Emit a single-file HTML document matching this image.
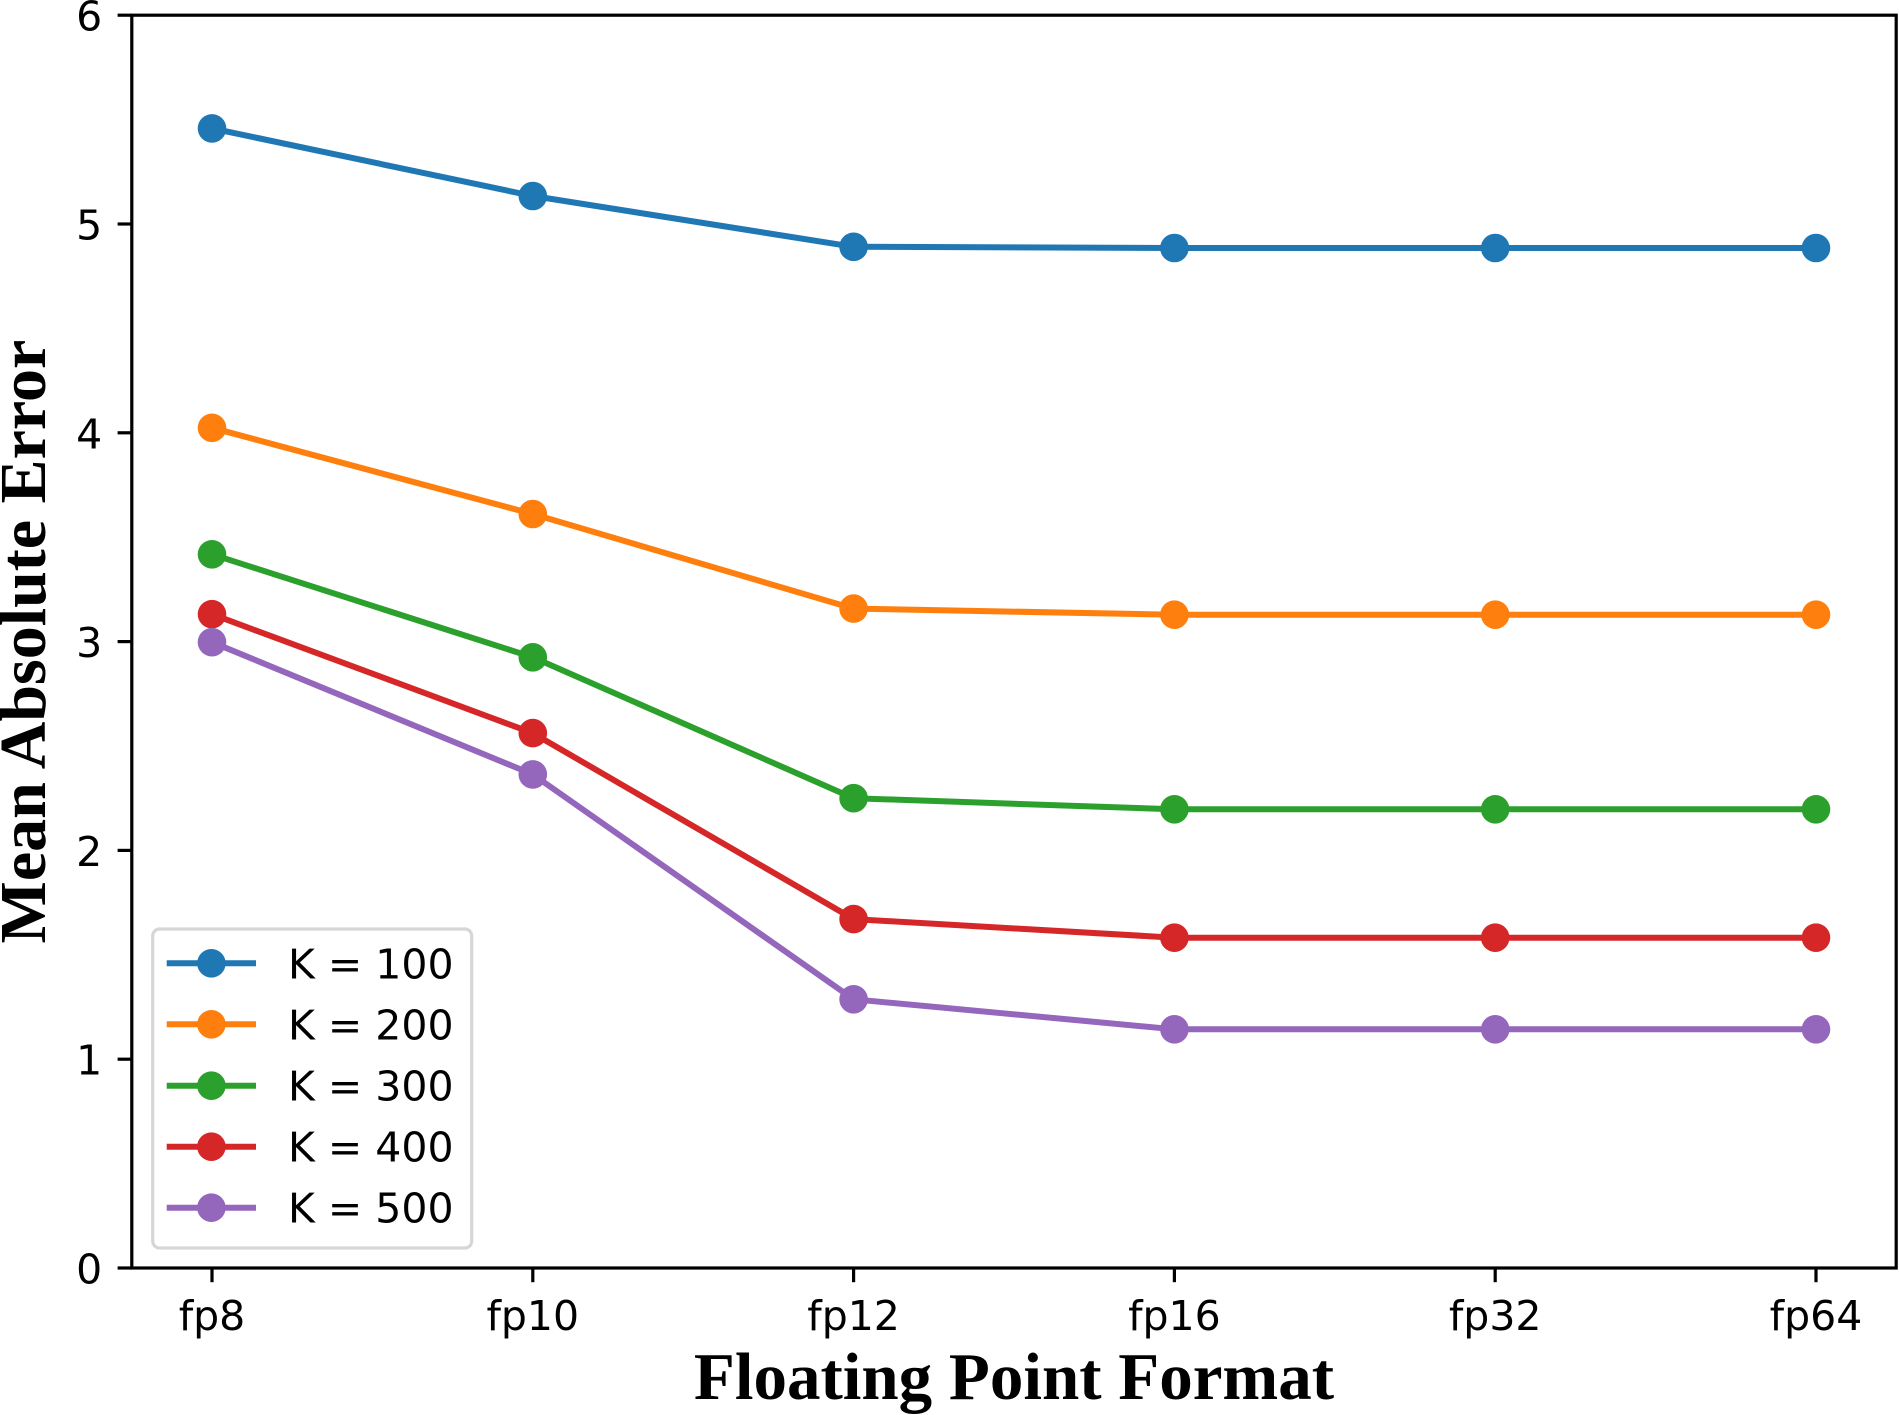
<!DOCTYPE html>
<html>
<head>
<meta charset="utf-8">
<style>
html,body{margin:0;padding:0;background:#fff;}
svg{display:block;}
.tick{font-family:"DejaVu Sans","Liberation Sans",sans-serif;font-size:41px;fill:#000;}
.lab{font-family:"Liberation Serif","Times New Roman",serif;font-weight:bold;font-size:66px;fill:#000;}
</style>
</head>
<body>
<svg width="1899" height="1415" viewBox="0 0 1899 1415" xmlns="http://www.w3.org/2000/svg">
<rect x="0" y="0" width="1899" height="1415" fill="#fff"/>

<!-- series -->
<g fill="none" stroke-width="6" stroke-linejoin="round" stroke-linecap="butt">
<polyline stroke="#1f77b4" points="212,128.4 532.8,196 853.6,246.8 1174.4,248 1495.2,248 1816,248"/>
<polyline stroke="#ff7f0e" points="212,427.8 532.8,514 853.6,608.6 1174.4,614.7 1495.2,614.7 1816,614.7"/>
<polyline stroke="#2ca02c" points="212,554.3 532.8,657.3 853.6,798.2 1174.4,809.3 1495.2,809.3 1816,809.3"/>
<polyline stroke="#d62728" points="212,614.2 532.8,733.1 853.6,919.1 1174.4,937.7 1495.2,937.7 1816,937.7"/>
<polyline stroke="#9467bd" points="212,642.2 532.8,774.4 853.6,999.3 1174.4,1029.3 1495.2,1029.3 1816,1029.3"/>
</g>
<g fill="#1f77b4">
<circle cx="212" cy="128.4" r="14.3"/><circle cx="532.8" cy="196" r="14.3"/><circle cx="853.6" cy="246.8" r="14.3"/><circle cx="1174.4" cy="248" r="14.3"/><circle cx="1495.2" cy="248" r="14.3"/><circle cx="1816" cy="248" r="14.3"/>
</g>
<g fill="#ff7f0e">
<circle cx="212" cy="427.8" r="14.3"/><circle cx="532.8" cy="514" r="14.3"/><circle cx="853.6" cy="608.6" r="14.3"/><circle cx="1174.4" cy="614.7" r="14.3"/><circle cx="1495.2" cy="614.7" r="14.3"/><circle cx="1816" cy="614.7" r="14.3"/>
</g>
<g fill="#2ca02c">
<circle cx="212" cy="554.3" r="14.3"/><circle cx="532.8" cy="657.3" r="14.3"/><circle cx="853.6" cy="798.2" r="14.3"/><circle cx="1174.4" cy="809.3" r="14.3"/><circle cx="1495.2" cy="809.3" r="14.3"/><circle cx="1816" cy="809.3" r="14.3"/>
</g>
<g fill="#d62728">
<circle cx="212" cy="614.2" r="14.3"/><circle cx="532.8" cy="733.1" r="14.3"/><circle cx="853.6" cy="919.1" r="14.3"/><circle cx="1174.4" cy="937.7" r="14.3"/><circle cx="1495.2" cy="937.7" r="14.3"/><circle cx="1816" cy="937.7" r="14.3"/>
</g>
<g fill="#9467bd">
<circle cx="212" cy="642.2" r="14.3"/><circle cx="532.8" cy="774.4" r="14.3"/><circle cx="853.6" cy="999.3" r="14.3"/><circle cx="1174.4" cy="1029.3" r="14.3"/><circle cx="1495.2" cy="1029.3" r="14.3"/><circle cx="1816" cy="1029.3" r="14.3"/>
</g>

<!-- spines -->
<rect x="131.8" y="15.2" width="1764.4" height="1252.8" fill="none" stroke="#000" stroke-width="3.2" stroke-linejoin="miter"/>

<!-- y ticks -->
<g stroke="#000" stroke-width="3.2">
<line x1="117.6" y1="1268" x2="131.8" y2="1268"/>
<line x1="117.6" y1="1059.2" x2="131.8" y2="1059.2"/>
<line x1="117.6" y1="850.4" x2="131.8" y2="850.4"/>
<line x1="117.6" y1="641.6" x2="131.8" y2="641.6"/>
<line x1="117.6" y1="432.8" x2="131.8" y2="432.8"/>
<line x1="117.6" y1="224" x2="131.8" y2="224"/>
<line x1="117.6" y1="15.2" x2="131.8" y2="15.2"/>
</g>
<g class="tick" text-anchor="end">
<text x="102.2" y="1283.5">0</text>
<text x="102.2" y="1074.7">1</text>
<text x="102.2" y="865.9">2</text>
<text x="102.2" y="657.1">3</text>
<text x="102.2" y="448.3">4</text>
<text x="102.2" y="239.5">5</text>
<text x="102.2" y="30.7">6</text>
</g>

<!-- x ticks -->
<g stroke="#000" stroke-width="3.2">
<line x1="212" y1="1268" x2="212" y2="1282.2"/>
<line x1="532.8" y1="1268" x2="532.8" y2="1282.2"/>
<line x1="853.6" y1="1268" x2="853.6" y2="1282.2"/>
<line x1="1174.4" y1="1268" x2="1174.4" y2="1282.2"/>
<line x1="1495.2" y1="1268" x2="1495.2" y2="1282.2"/>
<line x1="1816" y1="1268" x2="1816" y2="1282.2"/>
</g>
<g class="tick" text-anchor="middle">
<text x="212" y="1330">fp8</text>
<text x="532.8" y="1330">fp10</text>
<text x="853.6" y="1330">fp12</text>
<text x="1174.4" y="1330">fp16</text>
<text x="1495.2" y="1330">fp32</text>
<text x="1816" y="1330">fp64</text>
</g>

<!-- axis labels -->
<text class="lab" x="1014" y="1399" text-anchor="middle" style="font-size:67px">Floating Point Format</text>
<text class="lab" transform="translate(45,641.6) rotate(-90)" x="0" y="0" text-anchor="middle">Mean Absolute Error</text>

<!-- legend -->
<rect x="152.7" y="929" width="319" height="319" rx="7" ry="7" fill="#fff" fill-opacity="0.8" stroke="#d6d6d6" stroke-width="3.2"/>
<g stroke-width="6">
<line x1="166.7" y1="963.3" x2="256" y2="963.3" stroke="#1f77b4"/>
<line x1="166.7" y1="1024.3" x2="256" y2="1024.3" stroke="#ff7f0e"/>
<line x1="166.7" y1="1085.7" x2="256" y2="1085.7" stroke="#2ca02c"/>
<line x1="166.7" y1="1146.7" x2="256" y2="1146.7" stroke="#d62728"/>
<line x1="166.7" y1="1207.7" x2="256" y2="1207.7" stroke="#9467bd"/>
</g>
<circle cx="211.4" cy="963.3" r="14.3" fill="#1f77b4"/>
<circle cx="211.4" cy="1024.3" r="14.3" fill="#ff7f0e"/>
<circle cx="211.4" cy="1085.7" r="14.3" fill="#2ca02c"/>
<circle cx="211.4" cy="1146.7" r="14.3" fill="#d62728"/>
<circle cx="211.4" cy="1207.7" r="14.3" fill="#9467bd"/>
<g class="tick">
<text x="288" y="978.3">K = 100</text>
<text x="288" y="1039.3">K = 200</text>
<text x="288" y="1100.7">K = 300</text>
<text x="288" y="1161.7">K = 400</text>
<text x="288" y="1222.7">K = 500</text>
</g>
</svg>
</body>
</html>
